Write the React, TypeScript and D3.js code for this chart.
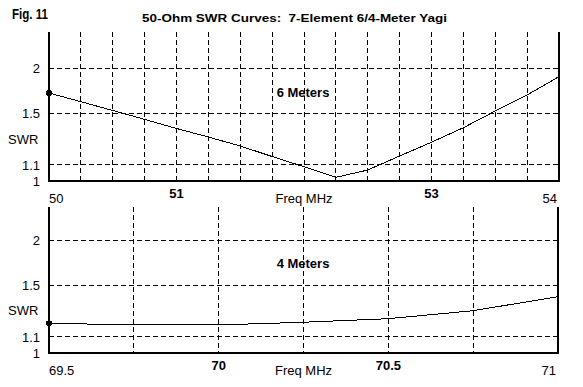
import * as d3 from "d3";

// 6-meter band, 0.25 MHz steps
const sixFreq = [50, 50.25, 50.5, 50.75, 51, 51.25, 51.5, 51.75, 52, 52.25, 52.5, 52.75, 53, 53.25, 53.5, 53.75, 54];
const sixSwr = [1.704, 1.613, 1.527, 1.446, 1.368, 1.299, 1.231, 1.156, 1.088, 1.022, 1.067, 1.16, 1.259, 1.374, 1.522, 1.682, 1.893];

// 4-meter band
const fourFreq = [69.5, 69.75, 70, 70.25, 70.5, 70.75, 71];
const fourSwr = [1.193, 1.181, 1.181, 1.2, 1.226, 1.286, 1.4];

const swrTicks = [1, 1.1, 1.5, 2];
const swrGrid = [1.1, 1.5, 2];
const sixXLabels = [50, 51, 53, 54];
const fourXLabels = [69.5, 70, 70.5, 71];

const W = 583;
const H = 387;
const FONT = "'Liberation Sans', Arial, sans-serif";

// SWR scale is linear in reflection coefficient
const rho = (s: number) => (s - 1) / (s + 1);

type PanelProps = {
  freq: number[];
  swr: number[];
  xDomain: [number, number];
  xLabels: number[];
  left: number;
  right: number;
  top: number;
  base: number;
  name: string;
  nameY: number;
  swrY: number;
};

const Panel = ({ freq, swr, xDomain, xLabels, left, right, top, base, name, nameY, swrY }: PanelProps) => {
  const x = d3.scaleLinear().domain(xDomain).range([left, right]);
  const y = d3.scaleLinear().domain([0, rho(2)]).range([base, base - 112.7]);
  const sy = (s: number) => y(rho(s));

  const vGrid = d3.range(xDomain[0] + 0.25, xDomain[1] - 0.001, 0.25);
  const line = d3
    .line<number>()
    .x((_, i) => x(freq[i]))
    .y((d) => sy(d));

  const mid = (xDomain[0] + xDomain[1]) / 2;

  return (
    <g>
      {swrGrid.map((s) => (
        <line key={"h" + s} x1={left} x2={right} y1={sy(s)} y2={sy(s)} stroke="#000" strokeDasharray="5,3" />
      ))}
      {vGrid.map((f) => (
        <line key={"v" + f} x1={x(f)} x2={x(f)} y1={top} y2={base} stroke="#000" strokeDasharray="5,3" />
      ))}
      <path d={`M${left},${top}V${base}H${right}V${top}`} fill="none" stroke="#000" strokeWidth={1.2} />
      <path d={line(swr) || ""} fill="none" stroke="#000" strokeWidth={1} />
      <circle cx={x(freq[0])} cy={sy(swr[0])} r={3} fill="#000" />

      {swrTicks.map((s) => (
        <text key={"t" + s} x={40} y={sy(s)} dy="0.36em" textAnchor="end" fontSize={13} fontFamily={FONT}>
          {s}
        </text>
      ))}
      <text x={8} y={swrY} dy="0.36em" fontSize={13} fontFamily={FONT}>
        SWR
      </text>

      {xLabels.map((f, i) => {
        const first = i === 0;
        const last = i === xLabels.length - 1;
        const bold = !first && !last;
        return (
          <text
            key={"x" + f}
            x={first ? x(f) : last ? x(f) - 2 : x(f)}
            y={bold ? base + 17 : base + 21.5}
            textAnchor={first ? "start" : last ? "end" : "middle"}
            fontSize={13}
            fontWeight={bold ? "bold" : "normal"}
            fontFamily={FONT}
          >
            {f}
          </text>
        );
      })}
      <text x={x(mid)} y={base + 21.5} textAnchor="middle" fontSize={13} fontFamily={FONT}>
        Freq MHz
      </text>
      <text x={303} y={nameY} dy="0.36em" textAnchor="middle" fontSize={13} fontWeight="bold" fontFamily={FONT}>
        {name}
      </text>
    </g>
  );
};

export default function App() {
  return (
    <svg width={W} height={H} style={{ position: "absolute", left: 0, top: 0, background: "#fff" }} shapeRendering="crispEdges">
      <rect width={W} height={H} fill="#fff" />
      <text x={12} y={18.5} fontSize={14} fontWeight="bold" fontFamily={FONT} textLength={36} lengthAdjust="spacingAndGlyphs">
        Fig. 11
      </text>
      <text
        x={142}
        y={22}
        fontSize={11.5}
        fontWeight="bold"
        fontFamily={FONT}
        textLength={305}
        lengthAdjust="spacingAndGlyphs"
        style={{ whiteSpace: "pre" }}
      >
        {"50-Ohm SWR Curves:  7-Element 6/4-Meter Yagi"}
      </text>
      <Panel
        freq={sixFreq}
        swr={sixSwr}
        xDomain={[50, 54]}
        xLabels={sixXLabels}
        left={49}
        right={559}
        top={32}
        base={181}
        name="6 Meters"
        nameY={92.5}
        swrY={139.5}
      />
      <Panel
        freq={fourFreq}
        swr={fourSwr}
        xDomain={[69.5, 71]}
        xLabels={fourXLabels}
        left={49}
        right={558}
        top={207}
        base={353}
        name="4 Meters"
        nameY={263}
        swrY={310}
      />
    </svg>
  );
}
